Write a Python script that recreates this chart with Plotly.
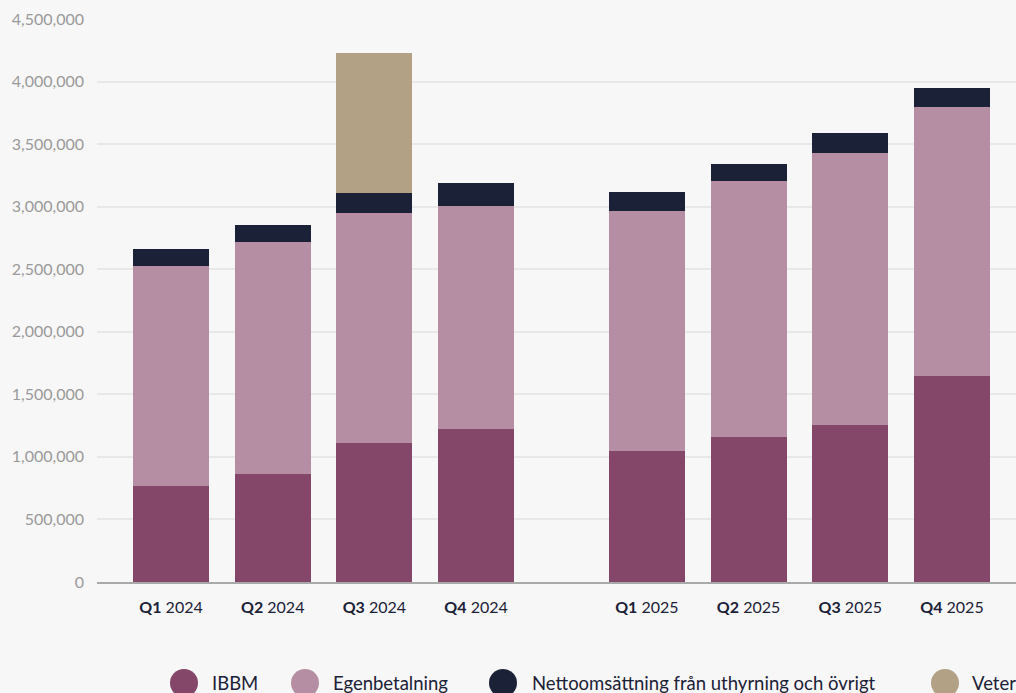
import plotly.graph_objects as go

# ---- data ----
quarters = ["Q1", "Q2", "Q3", "Q4", "Q1", "Q2", "Q3", "Q4"]
years = ["2024", "2024", "2024", "2024", "2025", "2025", "2025", "2025"]
ibbm = [764000, 860000, 1108000, 1220000, 1044000, 1156000, 1252000, 1644000]
egenbetalning = [1760000, 1856000, 1840000, 1784000, 1920000, 2048000, 2176000, 2152000]
nettoomsattning = [136000, 136000, 160000, 184000, 152000, 136000, 160000, 152000]
veter = [None, None, 1120000, None, None, None, None, None]

series_names = ["IBBM", "Egenbetalning", "Nettoomsättning från uthyrning och övrigt", "Veterinärverksamhet"]
series_values = [ibbm, egenbetalning, nettoomsattning, veter]
colors = ["#84476a", "#b58ea4", "#1b2137", "#b2a185"]

# ---- layout helpers ----
W, H = 1016, 693
ML, MR, MT, MB = 97, 0, 19, 111
year_gap = 0.68  # extra spacing between the two years
xpos = [i + (year_gap if years[i] == "2025" else 0) for i in range(len(quarters))]
ticktext = [f"<b>{q}</b> {y}" for q, y in zip(quarters, years)]

fig = go.Figure()
for name, vals, col in zip(series_names, series_values, colors):
    fig.add_trace(go.Bar(
        x=xpos, y=vals, name=name, marker=dict(color=col, line=dict(width=0)),
        width=0.747, showlegend=False,
    ))

fig.update_layout(
    barmode="stack",
    width=W, height=H,
    margin=dict(l=ML, r=MR, t=MT, b=MB, pad=0),
    paper_bgcolor="#f7f7f7", plot_bgcolor="#f7f7f7",
    font=dict(family="Lato, sans-serif", color="#1b2137"),
)
fig.update_xaxes(
    range=[-0.728, 8.31], tickvals=xpos, ticktext=ticktext,
    tickfont=dict(size=16, color="#1b2137"), showgrid=False, zeroline=False,
    showline=True, linecolor="#a9a9a9", linewidth=1.5, ticks="",
    ticklabelstandoff=10,
)
fig.update_yaxes(
    range=[0, 4500000], dtick=500000, tickformat=",d",
    tickfont=dict(size=16, color="#9a9a9a"), showgrid=True, gridcolor="#e8e8e8",
    gridwidth=1.5, zeroline=False, ticks="", ticklabelstandoff=12,
)

# custom legend with round markers
plot_w = W - ML - MR
plot_h = H - MT - MB
legend_py = 683
legend_y = (H - MB - legend_py) / plot_h
marker_px = [184, 305, 503, 945]
text_px = [210, 331, 530, 970]
for name, col, mx, tx in zip(series_names, colors, marker_px, text_px):
    fig.add_shape(
        type="circle", xref="paper", yref="paper",
        xsizemode="pixel", ysizemode="pixel",
        xanchor=(mx - ML) / plot_w, yanchor=legend_y,
        x0=-14, x1=14, y0=-14, y1=14,
        fillcolor=col, line=dict(width=0),
    )
    fig.add_annotation(
        text=name, xref="paper", yref="paper",
        x=(tx - ML) / plot_w, y=legend_y, xanchor="left", yanchor="middle",
        showarrow=False, font=dict(size=18.5, color="#1b2137"),
    )

fig.write_html(
    "out.html",
    config={"responsive": False, "displayModeBar": False},
    post_script="document.body.style.margin='0';document.body.style.overflow='hidden';",
)
